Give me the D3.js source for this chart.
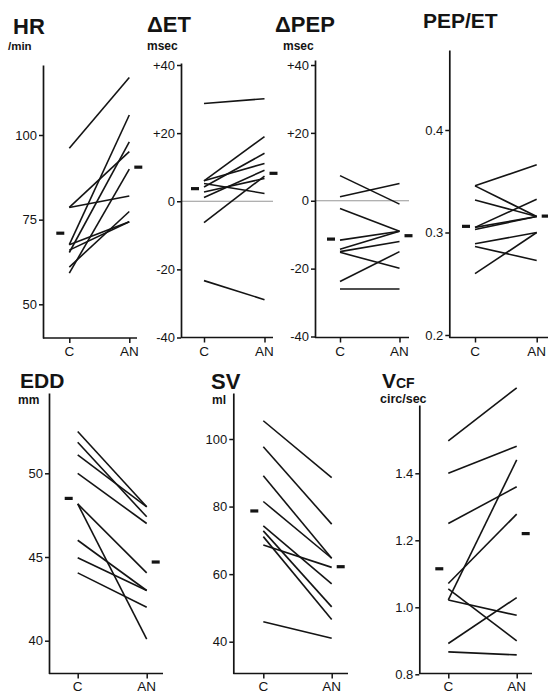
<!DOCTYPE html>
<html><head><meta charset="utf-8">
<script src="https://cdn.jsdelivr.net/npm/d3@7"></script>
<style>
html,body{margin:0;padding:0;background:#fff;}
svg{display:block;font-family:"Liberation Sans",Arial,sans-serif;}
</style></head>
<body><svg id="c" width="548" height="694"></svg>
<script>
// ---- data ----
const groups = ["C", "AN"];

const hrC  = [96.1, 78.6, 78.6, 67.6, 65.3, 59.2, 67.6, 61.0, 66.0];
const hrAN = [117.0, 95.1, 82.0, 105.9, 98.0, 89.9, 74.4, 77.4, 74.4];
const hrMean = [71.0, 90.5];
const hrTicks = [50, 75, 100];

const etC  = [28.7, 6.0, 6.0, 5.2, 4.2, 2.7, 1.1, -6.3, -23.3];
const etAN = [30.1, 19.0, 11.1, 2.3, 14.1, 6.7, 9.1, 7.4, -28.9];
const etMean = [3.7, 8.2];
const etTicks = [-40, -20, 0, 20, 40];

const pepC  = [7.4, 1.2, -2.3, -11.6, -14.3, -15.0, -15.2, -23.8, -26.0];
const pepAN = [-1.0, 5.1, -9.0, -9.0, -9.0, -12.0, -19.9, -15.0, -26.0];
const pepMean = [-11.3, -10.3];
const pepTicks = [-40, -20, 0, 20, 40];

const ratioC  = [0.3455, 0.3455, 0.3318, 0.305, 0.305, 0.303, 0.289, 0.2864, 0.2598];
const ratioAN = [0.366, 0.3156, 0.3156, 0.3325, 0.3156, 0.3156, 0.300, 0.2727, 0.300];
const ratioMean = [0.306, 0.316];
const ratioTicks = [0.2, 0.3, 0.4];

const eddC  = [52.5, 51.85, 51.1, 50.0, 48.17, 48.17, 46.0, 44.95, 44.05];
const eddAN = [48.0, 47.4, 48.0, 47.0, 44.05, 40.1, 43.0, 43.0, 42.0];
const eddMean = [48.5, 44.7];
const eddTicks = [40, 45, 50];

const svC  = [105.4, 97.7, 89.1, 81.5, 74.3, 72.8, 71.1, 68.6, 45.9];
const svAN = [88.6, 74.8, 64.7, 64.7, 57.1, 50.3, 46.6, 62.0, 41.0];
const svMean = [78.7, 62.2];
const svTicks = [40, 60, 80, 100];

const vcfC  = [1.497, 1.40, 1.25, 1.071, 1.022, 1.055, 1.022, 0.892, 0.867];
const vcfAN = [1.655, 1.481, 1.36, 1.278, 1.44, 0.90, 0.976, 1.029, 0.858];
const vcfMean = [1.115, 1.22];
const vcfTicks = [0.8, 1.0, 1.2, 1.4];

// ---- layout ----
const fmtSigned = d => d > 0 ? "+" + d : String(d);
const fmt1 = d => d.toFixed(1);
const panels = [
  {c: hrC, an: hrAN, mean: hrMean, ticks: hrTicks, fmt: String,
   ax: 43, cal: [50, 304.3, 100, 135], bottom: 338, top: 65, cx: 69.3, anx: 129.3, xend: 137,
   title: [{t:"HR", x:13, y:34, s:22}], unit: {t:"/min", x:8, y:50, s:11.5}, xlab: 356},
  {c: etC, an: etAN, mean: etMean, ticks: etTicks, fmt: fmtSigned, zero: true,
   ax: 181, cal: [-40, 337.5, 40, 65], bottom: 337.5, top: 63, cx: 204, anx: 264.5, xend: 273,
   title: [{t:"ΔET", x:147, y:32, s:22}], unit: {t:"msec", x:147, y:50, s:12}, xlab: 356},
  {c: pepC, an: pepAN, mean: pepMean, ticks: pepTicks, fmt: fmtSigned, zero: true,
   ax: 315, cal: [-40, 336.5, 40, 65], bottom: 337.5, top: 60, cx: 340, anx: 399.5, xend: 409,
   title: [{t:"ΔPEP", x:275, y:32, s:22}], unit: {t:"msec", x:283, y:50, s:12}, xlab: 356},
  {c: ratioC, an: ratioAN, mean: ratioMean, ticks: ratioTicks, fmt: fmt1,
   ax: 449.3, cal: [0.2, 335, 0.4, 130], bottom: 337.5, top: 50, cx: 475, anx: 536.7, xend: 548,
   title: [{t:"PEP/ET", x:423, y:28, s:21}], unit: null, xlab: 356},
  {c: eddC, an: eddAN, mean: eddMean, ticks: eddTicks, fmt: String,
   ax: 49, cal: [40, 640.7, 50, 473.3], bottom: 673.5, top: 393, cx: 77.7, anx: 146.7, xend: 163,
   title: [{t:"EDD", x:20, y:388, s:21}], unit: {t:"mm", x:18, y:404, s:12}, xlab: 691},
  {c: svC, an: svAN, mean: svMean, ticks: svTicks, fmt: String,
   ax: 233.3, cal: [40, 641.7, 100, 439], bottom: 673.5, top: 393, cx: 263.3, anx: 331.7, xend: 348,
   title: [{t:"SV", x:211, y:389, s:22}], unit: {t:"ml", x:212, y:404, s:12}, xlab: 691},
  {c: vcfC, an: vcfAN, mean: vcfMean, ticks: vcfTicks, fmt: fmt1,
   ax: 419.3, cal: [0.8, 674.3, 1.4, 473.3], bottom: 673.5, top: 405, cx: 448.3, anx: 516.7, xend: 532,
   title: [{t:"V", x:382, y:388, s:21}, {t:"CF", x:396, y:388, s:14}], unit: {t:"circ/sec", x:380, y:403, s:12.5}, xlab: 691}
];

const svg = d3.select("#c");
const ink = "#141414";

panels.forEach(p => {
  const g = svg.append("g");
  const cal = d3.scaleLinear().domain([p.cal[0], p.cal[2]]).range([p.cal[1], p.cal[3]]);
  const y = d3.scaleLinear().domain([cal.invert(p.bottom), cal.invert(p.top)]).range([p.bottom, p.top]);
  const x = d3.scalePoint().domain(groups).range([p.cx, p.anx]);

  if (p.zero) {
    g.append("line").attr("x1", p.ax).attr("x2", p.xend).attr("y1", y(0)).attr("y2", y(0))
      .attr("stroke", "#8a8a8a").attr("stroke-width", 0.9);
  }

  const ya = g.append("g").attr("transform", `translate(${p.ax},0)`)
    .call(d3.axisLeft(y).tickValues(p.ticks).tickSize(4).tickSizeOuter(0).tickPadding(2).tickFormat(p.fmt));
  ya.select(".domain").attr("stroke", ink).attr("stroke-width", 1.7);
  ya.selectAll(".tick line").attr("stroke", ink).attr("stroke-width", 1.5);
  ya.selectAll(".tick text").attr("fill", ink).attr("font-size", 13)
    .attr("font-family", "'Liberation Sans', Arial, sans-serif");

  const xa = g.append("g").attr("transform", `translate(0,${p.bottom})`)
    .call(d3.axisBottom(x).tickSize(5).tickSizeOuter(0).tickFormat(() => ""));
  xa.select(".domain").remove();
  xa.selectAll(".tick line").attr("stroke", ink).attr("stroke-width", 1.5);
  g.append("line").attr("x1", p.ax).attr("x2", p.xend).attr("y1", p.bottom).attr("y2", p.bottom)
    .attr("stroke", ink).attr("stroke-width", 1.7);
  g.selectAll("text.xl").data(groups).enter().append("text").attr("class", "xl")
    .attr("x", d => x(d)).attr("y", p.xlab).attr("text-anchor", "middle")
    .attr("font-size", 13.5).attr("fill", ink).text(d => d);

  g.selectAll("line.pair").data(p.c.map((v, i) => [v, p.an[i]])).enter().append("line")
    .attr("class", "pair")
    .attr("x1", x("C")).attr("x2", x("AN"))
    .attr("y1", d => y(d[0])).attr("y2", d => y(d[1]))
    .attr("stroke", ink).attr("stroke-width", 1.6);

  g.append("line").attr("x1", x("C") - 13).attr("x2", x("C") - 5)
    .attr("y1", y(p.mean[0])).attr("y2", y(p.mean[0])).attr("stroke", ink).attr("stroke-width", 3.2);
  g.append("line").attr("x1", x("AN") + 5).attr("x2", x("AN") + 13)
    .attr("y1", y(p.mean[1])).attr("y2", y(p.mean[1])).attr("stroke", ink).attr("stroke-width", 3.2);

  p.title.forEach(t => g.append("text").attr("x", t.x).attr("y", t.y).attr("font-size", t.s)
    .attr("fill", ink).attr("font-weight", "bold").text(t.t));
  if (p.unit) g.append("text").attr("x", p.unit.x).attr("y", p.unit.y).attr("font-size", p.unit.s)
    .attr("fill", ink).attr("font-weight", "bold").text(p.unit.t);
});
</script></body></html>
